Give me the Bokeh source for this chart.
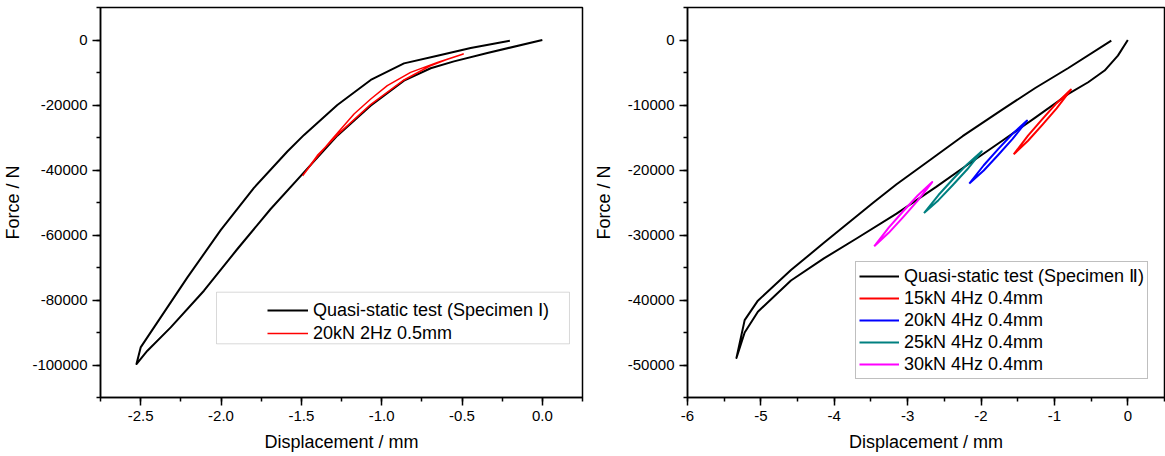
from bokeh.plotting import figure
from bokeh.layouts import row
from bokeh.models import (Legend, LegendItem, BoxAnnotation, SingleIntervalTicker,
                          NumeralTickFormatter, Range1d)
from bokeh.embed import file_html
from bokeh.resources import INLINE

FONT = "Liberation Sans"

# ---------------- Left panel (Specimen I) ----------------
qs1_load_x = [0.0, -0.342, -0.550, -0.695, -0.861, -1.069, -1.276, -1.485, -1.691,
              -1.898, -2.106, -2.313, -2.458, -2.526]
qs1_load_y = [0, -4000, -6585, -8700, -12523, -20216, -29447, -40830, -52000,
              -64310, -77140, -88430, -95600, -99700]
qs1_unload_x = [-2.526, -2.500, -2.417, -2.209, -2.002, -1.795, -1.587, -1.483,
                -1.276, -1.068, -0.861, -0.653, -0.446, -0.202]
qs1_unload_y = [-99700, -94590, -88430, -73050, -58500, -45500, -34300, -29200,
                -20000, -12300, -7200, -4830, -2460, -215]

dyn1_x = [-1.492, -1.421, -1.317, -1.172, -1.068, -0.965, -0.820, -0.653, -0.492,
          -0.600, -0.700, -0.861, -1.069, -1.276, -1.400, -1.492]
dyn1_y = [-41750, -37140, -30990, -22770, -18150, -14060, -9970, -6890, -4310,
          -6100, -8000, -12300, -19900, -29200, -35500, -41750]

labels1 = ["Quasi-static test (Specimen \u2160)", "20kN 2Hz 0.5mm"]

# ---------------- Right panel (Specimen II) ----------------
qs2_load_x = [0.0, -0.135, -0.316, -0.540, -0.810, -1.261, -1.711, -2.160, -2.611,
              -3.151, -3.691, -4.141, -4.590, -5.041, -5.221, -5.333]
qs2_load_y = [0, -2400, -4700, -6500, -8300, -11950, -15500, -19000, -22600,
              -26700, -30500, -33600, -37000, -41800, -45000, -48920]
qs2_unload_x = [-5.333, -5.221, -5.041, -4.590, -4.141, -3.466, -3.151, -2.700,
                -2.251, -1.711, -1.261, -0.810, -0.225]
qs2_unload_y = [-48920, -43100, -40100, -35400, -31200, -25000, -22200, -18500,
                -14800, -10700, -7385, -4308, -92]

loop15_x = [-1.555, -1.360, -1.165, -0.970, -0.775, -0.970, -1.165, -1.360, -1.555]
loop15_y = [-17590, -14700, -12160, -9720, -7630, -10520, -13060, -15500, -17590]
loop20_x = [-2.160, -1.963, -1.767, -1.570, -1.373, -1.570, -1.767, -1.963, -2.160]
loop20_y = [-22090, -19270, -16800, -14420, -12400, -15220, -17690, -20070, -22090]
loop25_x = [-2.777, -2.580, -2.384, -2.187, -1.990, -2.187, -2.384, -2.580, -2.777]
loop25_y = [-26620, -23850, -21430, -19100, -17120, -19890, -22310, -24640, -26620]
loop30_x = [-3.456, -3.258, -3.061, -2.863, -2.665, -2.863, -3.061, -3.258, -3.456]
loop30_y = [-31740, -28870, -26350, -23920, -21850, -24720, -27240, -29670, -31740]

labels2 = ["Quasi-static test (Specimen \u2161)", "15kN 4Hz 0.4mm", "20kN 4Hz 0.4mm",
           "25kN 4Hz 0.4mm", "30kN 4Hz 0.4mm"]
colors2 = ["#000000", "#ff0000", "#0000ff", "#008080", "#ff00ff"]


def style(p, xint, yint, xfmt, ylabel_standoff):
    p.xaxis.ticker = SingleIntervalTicker(interval=xint, num_minor_ticks=2)
    p.yaxis.ticker = SingleIntervalTicker(interval=yint, num_minor_ticks=2)
    p.xaxis.formatter = NumeralTickFormatter(format=xfmt)
    p.yaxis.formatter = NumeralTickFormatter(format="0")
    for ax in (p.xaxis, p.yaxis):
        ax.axis_line_width = 1.5
        ax.axis_line_color = "black"
        ax.major_tick_out = 8
        ax.major_tick_in = 0
        ax.minor_tick_out = 4
        ax.minor_tick_in = 0
        ax.major_tick_line_width = 1.5
        ax.minor_tick_line_width = 1.5
        ax.major_label_text_font = FONT
        ax.major_label_text_font_size = "15px"
        ax.major_label_text_color = "black"
        ax.major_label_standoff = 5
        ax.axis_label_text_font = FONT
        ax.axis_label_text_font_size = "18px"
        ax.axis_label_text_font_style = "normal"
        ax.axis_label_text_color = "black"
    p.xaxis.axis_label_standoff = 8
    p.yaxis.axis_label_standoff = ylabel_standoff
    p.xgrid.visible = False
    p.ygrid.visible = False
    p.outline_line_color = "black"
    p.outline_line_width = 1.5
    p.background_fill_color = "white"
    p.border_fill_color = "white"


# ---------- left figure ----------
p1 = figure(width=590, height=456, output_backend="svg", toolbar_location=None,
            x_range=Range1d(-2.75, 0.25), y_range=Range1d(-110000, 10000),
            min_border_left=100, min_border_right=8, min_border_top=7, min_border_bottom=59,
            x_axis_label="Displacement / mm", y_axis_label="Force / N")
style(p1, 0.5, 20000, "0.0", 6)

r1a = p1.line(qs1_load_x + qs1_unload_x[1:], qs1_load_y + qs1_unload_y[1:],
              line_color="black", line_width=2, line_join="round")
r1b = p1.line(dyn1_x, dyn1_y, line_color="#ff0000", line_width=1.5, line_join="round")

box1 = BoxAnnotation(left=-2.028, right=0.169, top=-77600, bottom=-93480,
                     fill_color="white", fill_alpha=1.0, line_color="#808080", line_width=1)
p1.add_layout(box1)

leg1 = Legend(items=[LegendItem(label=labels1[0], renderers=[r1a]),
                     LegendItem(label=labels1[1], renderers=[r1b])],
              location=(167, 53), padding=0, spacing=1, margin=0,
              glyph_width=41, glyph_height=22, label_height=22, label_standoff=5,
              label_text_font=FONT, label_text_font_size="18px", label_text_color="black",
              border_line_alpha=0, background_fill_alpha=0)
p1.add_layout(leg1)

# ---------- right figure ----------
p2 = figure(width=575, height=456, output_backend="svg", toolbar_location=None,
            x_range=Range1d(-6, 0.5), y_range=Range1d(-55000, 5000),
            min_border_left=92, min_border_right=1, min_border_top=7, min_border_bottom=59,
            x_axis_label="Displacement / mm", y_axis_label="Force / N")
style(p2, 1, 10000, "0", 11)

r2 = [p2.line(qs2_load_x + qs2_unload_x[1:], qs2_load_y + qs2_unload_y[1:],
              line_color=colors2[0], line_width=2, line_join="round")]
for lx, ly, c in [(loop15_x, loop15_y, colors2[1]), (loop20_x, loop20_y, colors2[2]),
                  (loop25_x, loop25_y, colors2[3]), (loop30_x, loop30_y, colors2[4])]:
    r2.append(p2.line(lx, ly, line_color=c, line_width=2, line_join="round"))

leg2 = Legend(items=[LegendItem(label=lab, renderers=[r]) for lab, r in zip(labels2, r2)],
              location=(168, 18), padding=3, spacing=0, margin=0,
              glyph_width=40, glyph_height=22, label_height=22, label_standoff=5,
              label_text_font=FONT, label_text_font_size="18px", label_text_color="black",
              border_line_color="#808080", border_line_width=1,
              background_fill_color="white", background_fill_alpha=1.0)
p2.add_layout(leg2)

layout = row(p1, p2)
open("out.html", "w").write(file_html(layout, INLINE))
